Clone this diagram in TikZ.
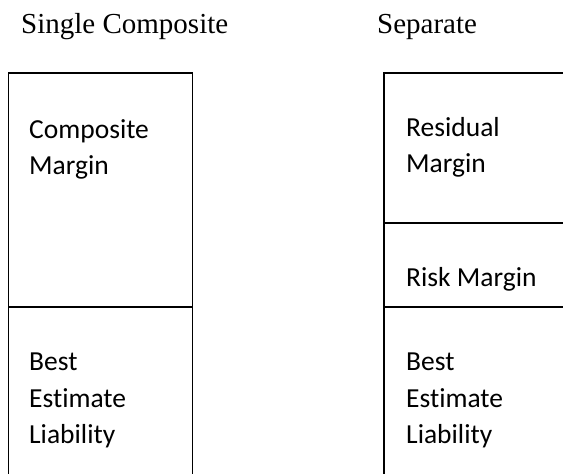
\documentclass[tikz,border=0pt]{standalone}
\usepackage{fontspec}
\setmainfont{Liberation Serif}
\newfontfamily\boxfont[Ligatures=NoCommon]{Carlito}
\begin{document}
\begin{tikzpicture}[x=1pt,y=-1pt,
  frame/.style={draw=black,line width=1.4pt},
  heading/.style={font=\fontsize{29}{35}\selectfont, inner sep=0pt, anchor=base west},
  label/.style={font=\boxfont\fontsize{27.5}{36.5}\selectfont, inner sep=0pt, anchor=base west, align=left}]
\useasboundingbox (0,0) rectangle (563,474);
\begin{scope}
\clip (0,0) rectangle (563,474);
% left column
\draw[frame] (8.5,490) -- (8.5,73) -- (192.5,73) -- (192.5,490);
\draw[frame] (8.5,307) -- (192.5,307);
% right column
\draw[frame] (384,490) -- (384,73) -- (580,73);
\draw[frame] (384,223) -- (580,223);
\draw[frame] (384,307) -- (580,307);
\end{scope}
\node[heading] (t1) at (21,33) {Single Composite};
\node[heading] (t2) at (377,33) {Separate};
\node[label] (cm) at (29,138) {Composite};
\node[label] (cm2) at (29,174) {Margin};
\node[label] (bel1) at (29,370) {Best};
\node[label] (bel1b) at (29,407) {Estimate};
\node[label] (bel1c) at (29,443) {Liability};
\node[label] (rm) at (406,136) {Residual};
\node[label] (rm2) at (406,172) {Margin};
\node[label] (risk) at (406,286) {Risk Margin};
\node[label] (bel2) at (406,370) {Best};
\node[label] (bel2b) at (406,407) {Estimate};
\node[label] (bel2c) at (406,443) {Liability};
\end{tikzpicture}
\end{document}
